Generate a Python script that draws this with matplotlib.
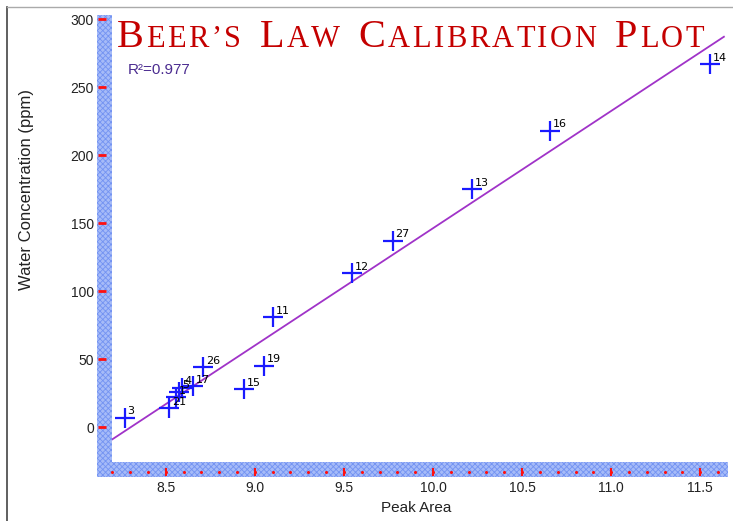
import numpy as np
import matplotlib
matplotlib.use("Agg")
import matplotlib.pyplot as plt
from matplotlib import transforms
from matplotlib.patches import Rectangle
from matplotlib.lines import Line2D

# data
peak_area = [8.27, 8.52, 8.555, 8.575, 8.59, 8.653, 8.708, 8.941, 9.053, 9.103,
             9.546, 9.774, 10.22, 10.655, 11.556]
water_ppm = [7, 14, 22, 26, 29, 30, 44, 28, 45, 81, 113, 137, 175, 218, 267]
point_ids = ['3', '21', '1', '5', '4', '17', '26', '15', '19', '11',
             '12', '27', '13', '16', '14']
fit_area = [8.2, 11.633]
fit_water = [-9, 287]
x_ticks = [8.5, 9.0, 9.5, 10.0, 10.5, 11.0, 11.5]
x_ticklabels = ['8.5', '9.0', '9.5', '10.0', '10.5', '11.0', '11.5']
y_ticks = [0, 50, 100, 150, 200, 250, 300]
r2_text = 'R²=0.977'
title_text = 'Beer’s Law Calibration Plot'

W, H = 733, 521
fig = plt.figure(figsize=(W / 100, H / 100), dpi=100)
ax = fig.add_axes([112 / W, 1 - 462 / H, (728 - 112) / W, (462 - 15) / H])
ax.set_xlim(8.198, 11.656)
ax.set_ylim(-25.7, 303)
for s in ax.spines.values():
    s.set_visible(False)

# blue checkered bands along the axes
plt.rcParams['hatch.linewidth'] = 0.6
for r in [(97, 15, 15, 477 - 15), (97, 462, 728 - 97, 15)]:
    fig.patches.append(Rectangle((r[0] / W, 1 - (r[1] + r[3]) / H), r[2] / W, r[3] / H,
                                 transform=fig.transFigure, facecolor='#a6bbf8',
                                 edgecolor='#7393f2', hatch='xxxxxx', linewidth=0, zorder=-1))

# frame lines of the screenshot
fig.add_artist(Line2D([7 / W, 7 / W], [0, 1 - 7 / H], transform=fig.transFigure, color='#444444', lw=1.2))
fig.add_artist(Line2D([7 / W, 1], [1 - 7 / H, 1 - 7 / H], transform=fig.transFigure, color='#aaaaaa', lw=1.0))

# ticks
ax.set_xticks(x_ticks)
ax.set_xticklabels(x_ticklabels)
ax.set_yticks(y_ticks)
ax.tick_params(axis='x', length=0, pad=14, labelsize=10)
ax.tick_params(axis='y', length=0, pad=13, labelsize=10)
for lab in ax.get_xticklabels() + ax.get_yticklabels():
    lab.set_family('Liberation Sans')
    lab.set_color('#222222')

ytr = transforms.offset_copy(ax.get_yaxis_transform(), fig=fig, x=-10, y=0, units='dots')
ax.plot([0] * len(y_ticks), y_ticks, linestyle='none', marker='_', markersize=6,
        mew=2, color='#ff1010', transform=ytr, clip_on=False, zorder=5)
xtr = transforms.offset_copy(ax.get_xaxis_transform(), fig=fig, x=0, y=-9.5, units='dots')
minor = np.arange(8.2, 11.65, 0.1)
ax.plot(minor, [0] * len(minor), linestyle='none', marker='o', markersize=2.2,
        color='#ff1010', mew=0, transform=xtr, clip_on=False, zorder=5)
ax.plot(x_ticks, [0] * len(x_ticks), linestyle='none', marker='|', markersize=6,
        mew=1.5, color='#ff1010', transform=xtr, clip_on=False, zorder=5)

# fit line and points
ax.plot(fit_area, fit_water, color='#a033c8', lw=1.3, zorder=2)
ax.plot(peak_area, water_ppm, linestyle='none', marker='+', markersize=15, mew=1.6,
        color='#1a1aff', zorder=3)
for x, y, t in zip(peak_area, water_ppm, point_ids):
    ax.annotate(t, (x, y), xytext=(2, 1), textcoords='offset points', fontsize=8,
                color='black', ha='left', va='bottom', zorder=4)

# axis labels
fig.text(27 / W, 1 - 190 / H, 'Water Concentration (ppm)', rotation=90, ha='center',
         va='center', fontsize=12, family='Liberation Sans', color='#222222')
fig.text(416 / W, 1 - 508 / H, 'Peak Area', ha='center', va='center', fontsize=11,
         family='Liberation Sans', color='#222222')

fig.text(128 / W, 1 - 70 / H, r2_text, ha='left', va='center', fontsize=11,
         family='Liberation Sans', color='#4b2c90')

# small-caps title, letter by letter with a little extra tracking
renderer = fig.canvas.get_renderer()
x0 = 117
for i, ch in enumerate(title_text):
    first = ch.isupper() and (i == 0 or title_text[i - 1] == ' ')
    size = 29 if first else 22
    t = fig.text(x0 / W, 1 - 47 / H, ch.upper(), fontsize=size, family='Liberation Serif',
                 color='#c40000', ha='left', va='baseline')
    x0 = t.get_window_extent(renderer).x1 + (9 if ch == ' ' else 2.4)

fig.savefig('out.png', dpi=100)
